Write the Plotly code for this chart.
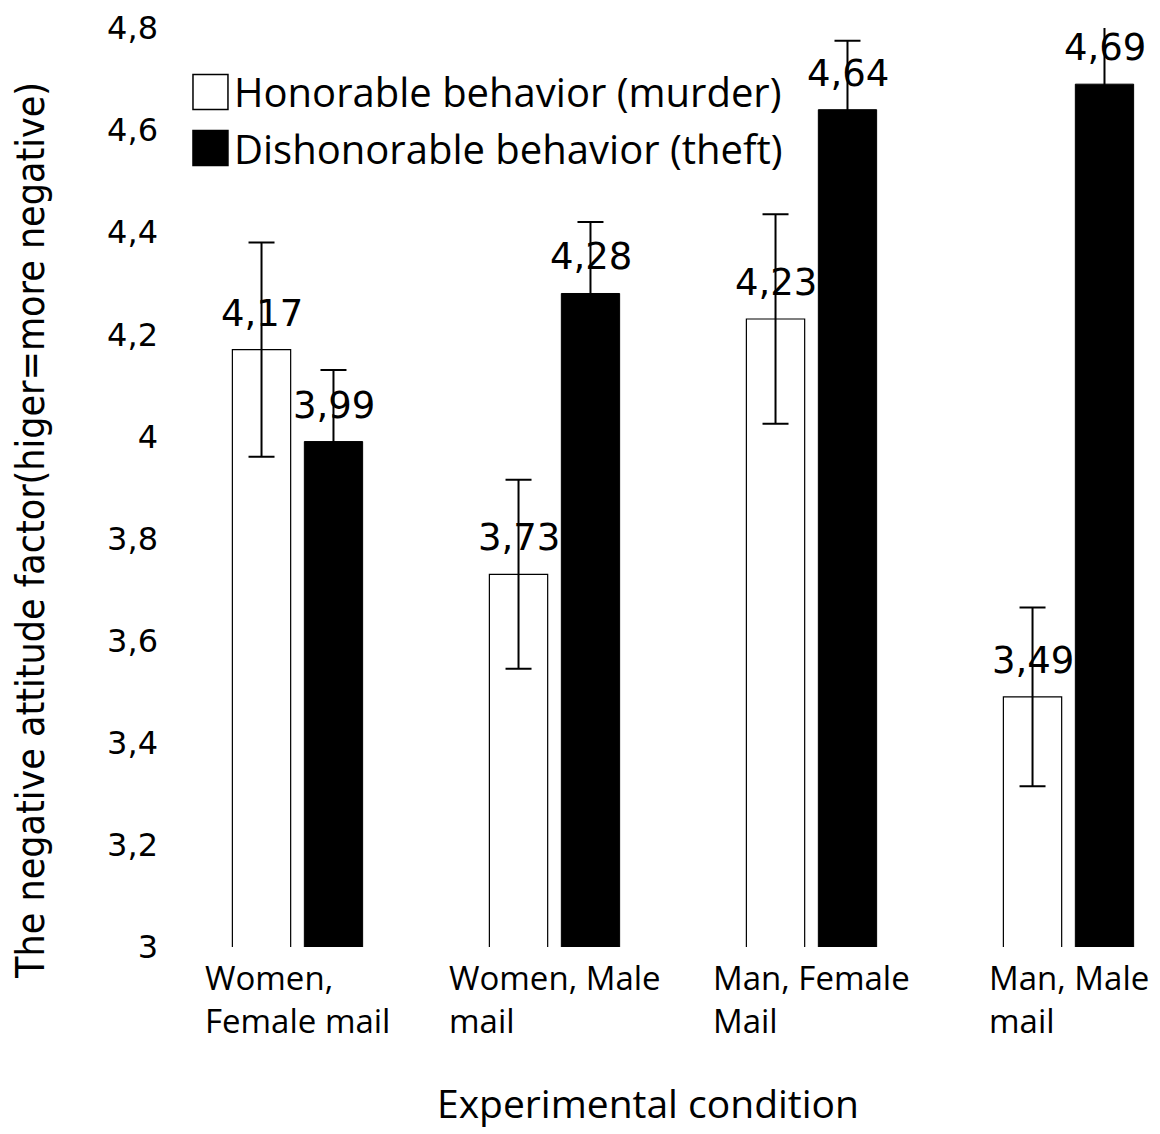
import plotly.graph_objects as go

conditions = ["Women, Female mail", "Women, Male mail", "Man, Female Mail", "Man, Male mail"]
condition_labels = ["Women,<br>Female mail", "Women, Male<br>mail", "Man, Female<br>Mail", "Man, Male<br>mail"]
series_names = ["Honorable behavior (murder)", "Dishonorable behavior (theft)"]
honorable = [4.17, 3.73, 4.23, 3.49]
honorable_err = [0.21, 0.185, 0.205, 0.175]
dishonorable = [3.99, 4.28, 4.64, 4.69]
dishonorable_err = [0.14, 0.14, 0.135, 0.13]
y_ticks = [3, 3.2, 3.4, 3.6, 3.8, 4, 4.2, 4.4, 4.6, 4.8]

TICK_FONT = "DejaVu Sans"
TEXT_FONT = "Open Sans"
NARROW_FONT = "DejaVu Sans Condensed, Liberation Sans Narrow, Roboto Condensed, Roboto"

fig = go.Figure()
fig.add_trace(
    go.Bar(
        x=conditions,
        y=honorable,
        name=series_names[0],
        marker=dict(color="white", line=dict(color="black", width=1.2)),
        error_y=dict(type="data", array=honorable_err, color="black", thickness=2, width=13),
    )
)
fig.add_trace(
    go.Bar(
        x=conditions,
        y=dishonorable,
        name=series_names[1],
        marker=dict(color="black", line=dict(color="black", width=1)),
        error_y=dict(type="data", array=dishonorable_err, color="black", thickness=2, width=13),
    )
)

annotations = []
# value labels above each bar
for vals, shift in ((honorable, -36), (dishonorable, 36)):
    for cond, v in zip(conditions, vals):
        annotations.append(
            dict(
                x=cond, y=v, xref="x", yref="y",
                text=f"{v:.2f}".replace(".", ","),
                showarrow=False, xshift=shift, yshift=13, yanchor="bottom",
                font=dict(family=TICK_FONT, size=37, color="black"),
            )
        )
# category labels (left-aligned lines, centered block)
for cond, lab in zip(conditions, condition_labels):
    annotations.append(
        dict(
            x=cond, y=0, xref="x", yref="paper",
            text=lab, showarrow=False, align="left",
            xanchor="center", yanchor="top", yshift=-6,
            font=dict(family=TEXT_FONT, size=33, color="black"),
        )
    )
annotations.append(
    dict(
        x=0.483, y=-0.2, xref="paper", yref="paper",
        text="Experimental condition", showarrow=False,
        xanchor="center", yanchor="bottom",
        font=dict(family=TEXT_FONT, size=39, color="black"),
    )
)
annotations.append(
    dict(
        x=-0.14, y=0.453, xref="paper", yref="paper",
        text="The negative attitude factor(higer=more negative)",
        showarrow=False, textangle=-90, xanchor="center", yanchor="middle",
        font=dict(family=NARROW_FONT, size=39, color="black"),
    )
)

# legend drawn as boxes + labels to get the large swatches
shapes = []
for i, (name, fill) in enumerate(zip(series_names, ["white", "black"])):
    y_mid = 0.9304 - i * 0.061
    shapes.append(
        dict(
            type="rect", xref="paper", yref="paper",
            x0=0.0242, x1=0.0595, y0=y_mid - 0.019, y1=y_mid + 0.019,
            fillcolor=fill, line=dict(color="black", width=1.5),
        )
    )
    annotations.append(
        dict(
            x=0.0636, y=y_mid, xref="paper", yref="paper",
            text=name, showarrow=False, xanchor="left", yanchor="middle",
            font=dict(family=TEXT_FONT, size=40, color="black"),
        )
    )

fig.update_layout(
    width=1152,
    height=1126,
    margin=dict(l=161, r=0, t=20, b=187),
    paper_bgcolor="white",
    plot_bgcolor="white",
    barmode="group",
    bargap=0.44,
    bargroupgap=0.19,
    separators=", ",
    showlegend=False,
    annotations=annotations,
    shapes=shapes,
)
fig.update_xaxes(range=[-0.5, 3.356], showticklabels=False, showline=False, showgrid=False, ticks="")
fig.update_yaxes(
    range=[3, 4.8],
    tickvals=y_ticks,
    showline=False,
    showgrid=False,
    zeroline=False,
    ticks="",
    ticklabelstandoff=10,
    tickfont=dict(family=TICK_FONT, size=32, color="black"),
)

fig.write_html("out.html")
